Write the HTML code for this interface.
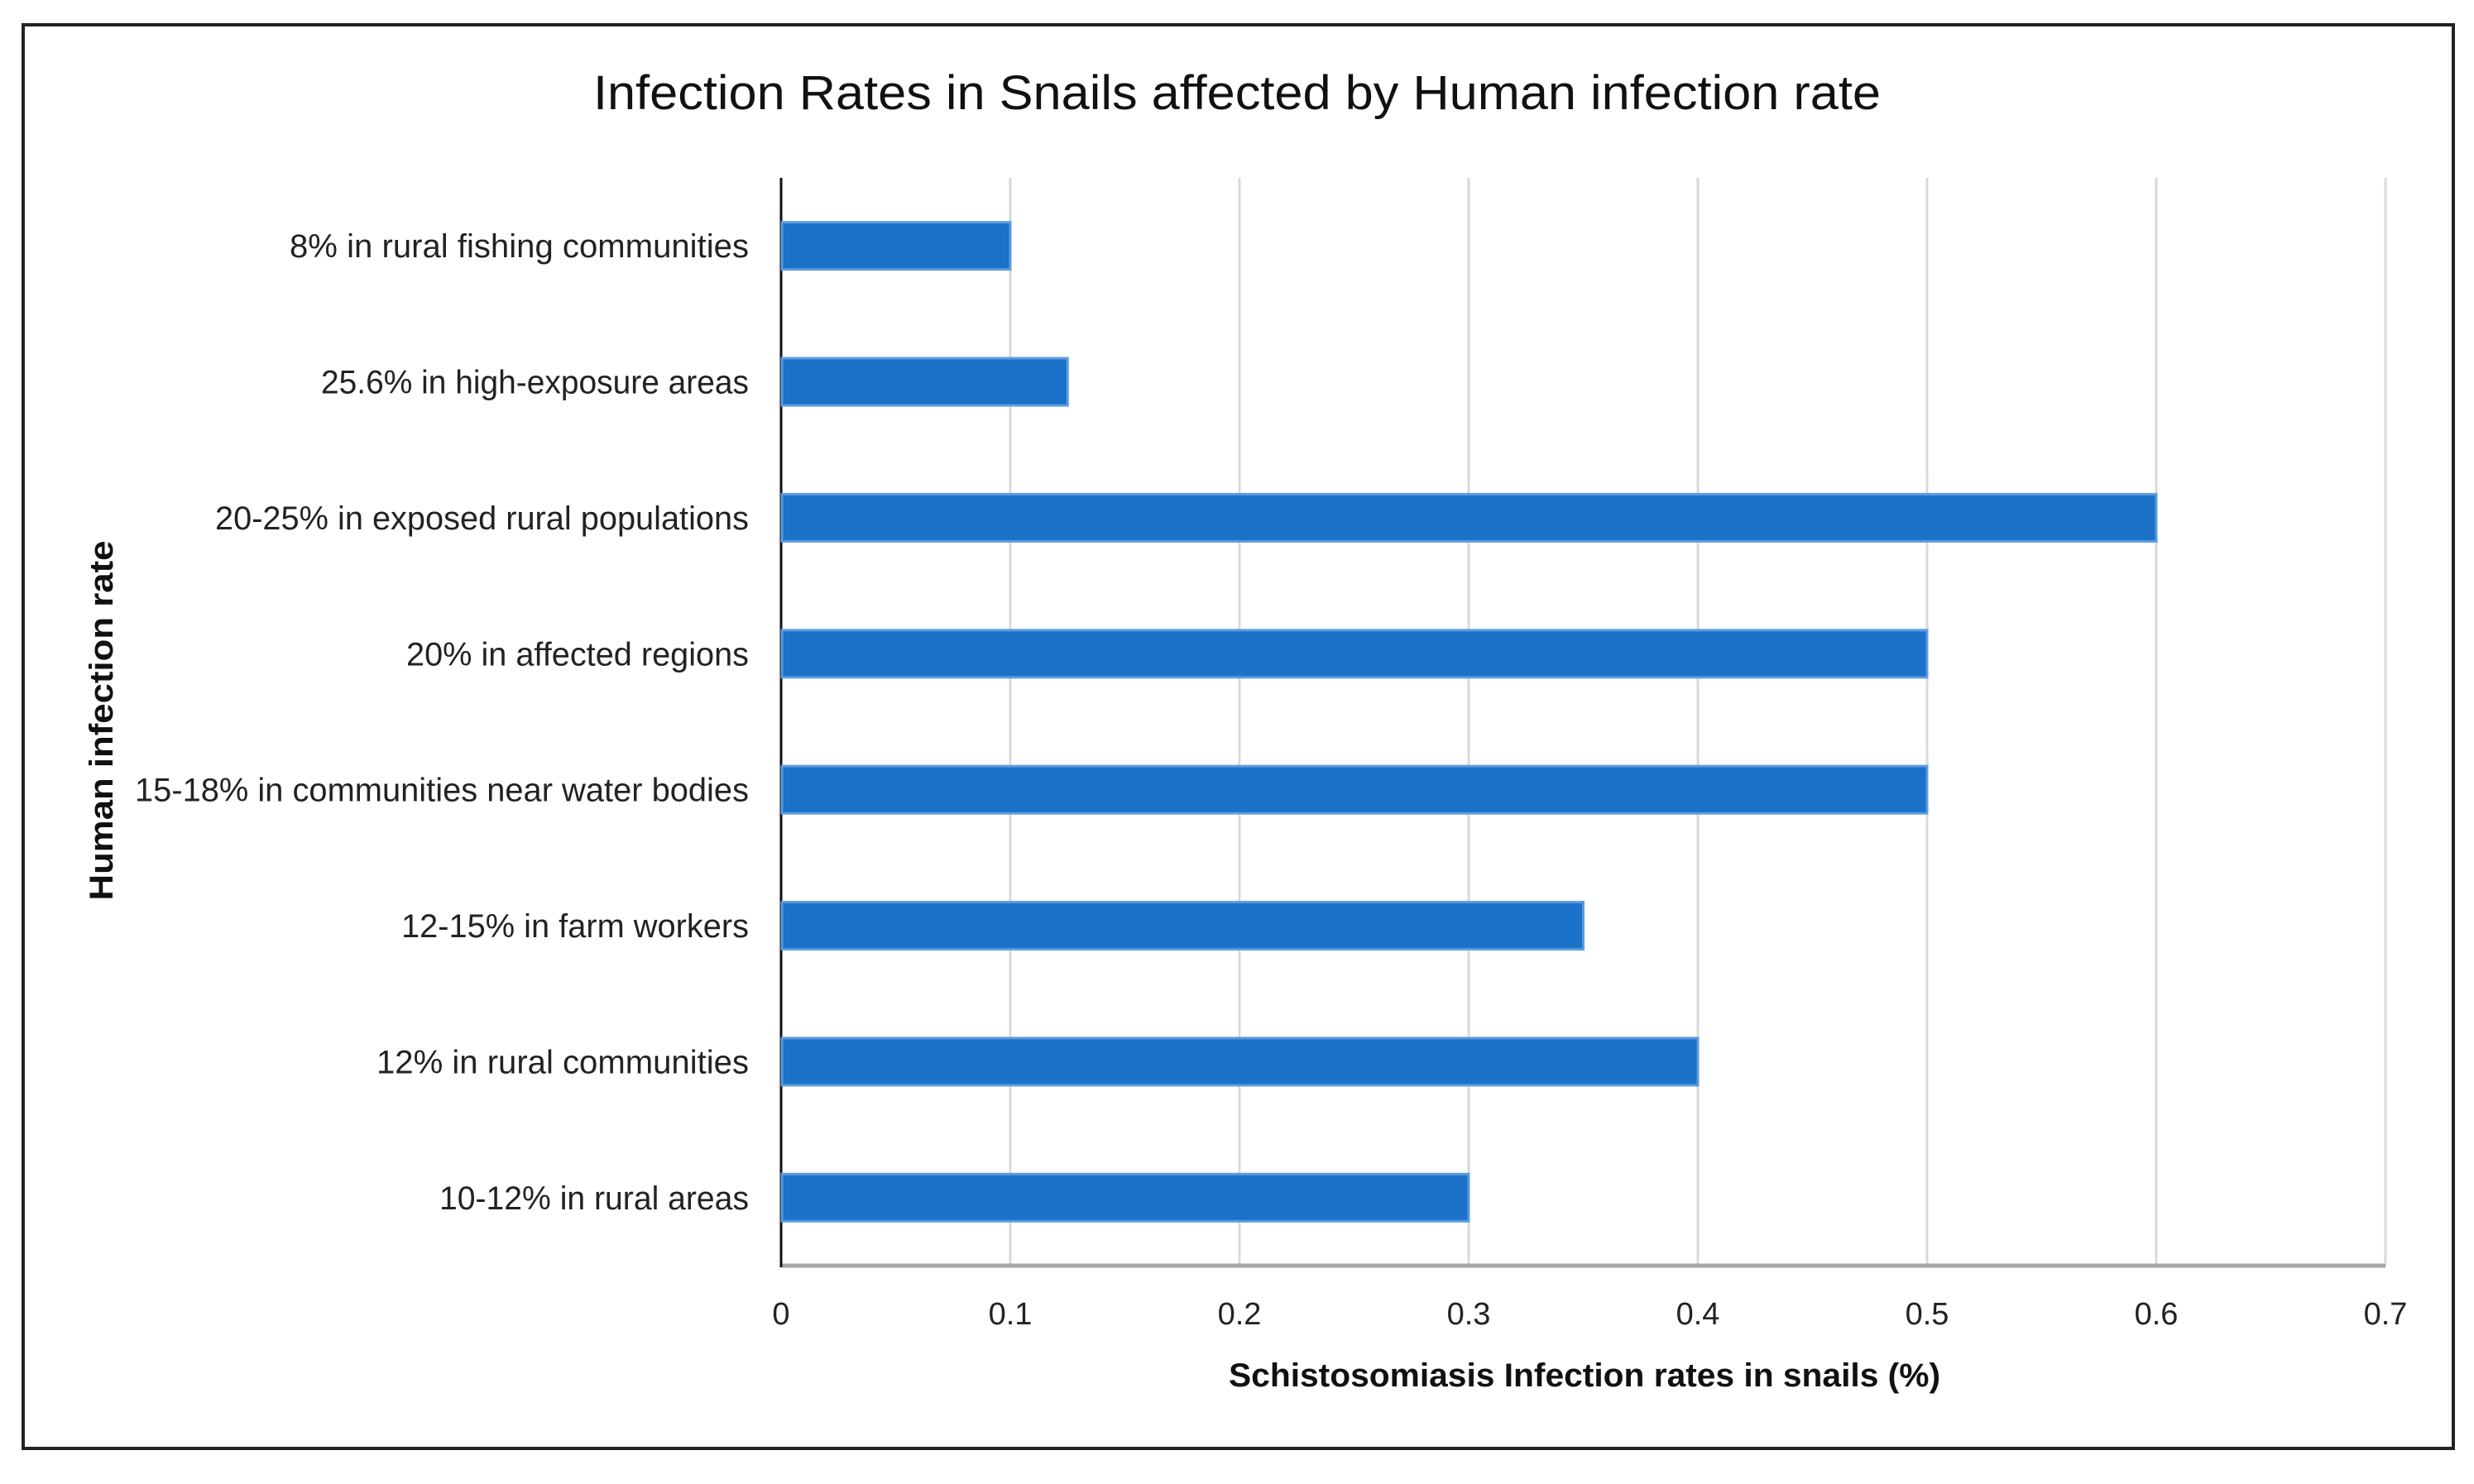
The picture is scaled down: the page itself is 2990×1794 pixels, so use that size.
<!DOCTYPE html>
<html><head><meta charset="utf-8"><style>
html,body{margin:0;padding:0;background:#fff;}
svg{display:block;font-family:"Liberation Sans",sans-serif;}
</style></head><body>
<svg id="chart" width="2990" height="1794" viewBox="0 0 2990 1794">
<rect x="28" y="30" width="2937" height="1721" fill="#fff" stroke="#222" stroke-width="4"/>
<text x="1495" y="132" text-anchor="middle" font-size="58" fill="#111" textLength="1556" lengthAdjust="spacingAndGlyphs">Infection Rates in Snails affected by Human infection rate</text>
<g id="grid"></g><g id="bars"></g><g id="labels"></g>
<text x="1915" y="1676" text-anchor="middle" font-size="40" font-weight="bold" fill="#111" textLength="860" lengthAdjust="spacingAndGlyphs">Schistosomiasis  Infection rates in snails (%)</text>
<text transform="translate(136,871) rotate(-90)" text-anchor="middle" font-size="40" font-weight="bold" fill="#111" textLength="435" lengthAdjust="spacingAndGlyphs">Human infection rate</text>
</svg>
<script>
const categories = ["8% in rural fishing communities","25.6% in high-exposure areas","20-25% in exposed rural populations","20% in affected regions","15-18% in communities near water bodies","12-15% in farm workers","12% in rural communities","10-12% in rural areas"];
const values = [0.1,0.125,0.6,0.5,0.5,0.35,0.4,0.3];
const ticks = [0,0.1,0.2,0.3,0.4,0.5,0.6,0.7];
const tickLabels = ["0","0.1","0.2","0.3","0.4","0.5","0.6","0.7"];
const labelWidths = [555,517,645,414,742,420,450,374];

const NS="http://www.w3.org/2000/svg";
const X0=944, X1=2883, XMAX=0.7, TOP=215, BOT=1530;
const xs=v=>X0+(v/XMAX)*(X1-X0);
const band=(BOT-TOP)/categories.length;
const yc=i=>TOP+band*(i+0.5);
function mk(t,a,p){const e=document.createElementNS(NS,t);for(const k in a)e.setAttribute(k,a[k]);p.appendChild(e);return e;}
const grid=document.getElementById('grid'),bars=document.getElementById('bars'),labels=document.getElementById('labels');
ticks.forEach((t,i)=>{
  if(t>0){const g=mk('line',{x1:xs(t),x2:xs(t),y1:TOP,y2:BOT,stroke:'#d9d9d9','stroke-width':3},grid);
  
  }
  const tl=mk('text',{x:xs(t),y:1601,'text-anchor':'middle','font-size':38,fill:'#222'},labels);
  tl.textContent=tickLabels[i];
  
  
});
const xa=mk('line',{x1:X0,x2:X1,y1:BOT,y2:BOT,stroke:'#a6a6a6','stroke-width':5},grid);


const ya=mk('line',{x1:X0,x2:X0,y1:TOP,y2:BOT+2,stroke:'#111','stroke-width':3},grid);


const BH=57;
categories.forEach((c,i)=>{
  const r=mk('rect',{x:X0+1,y:yc(i)-BH/2,width:xs(values[i])-X0-1,height:BH,fill:'#1b72c8',stroke:'#5b9be0','stroke-width':3},bars);
  
  
  const t=mk('text',{x:905,y:yc(i)+14,'text-anchor':'end','font-size':40,fill:'#222',textLength:labelWidths[i],lengthAdjust:'spacingAndGlyphs'},labels);
  t.textContent=c;
  
  
});
</script>
</body></html>
